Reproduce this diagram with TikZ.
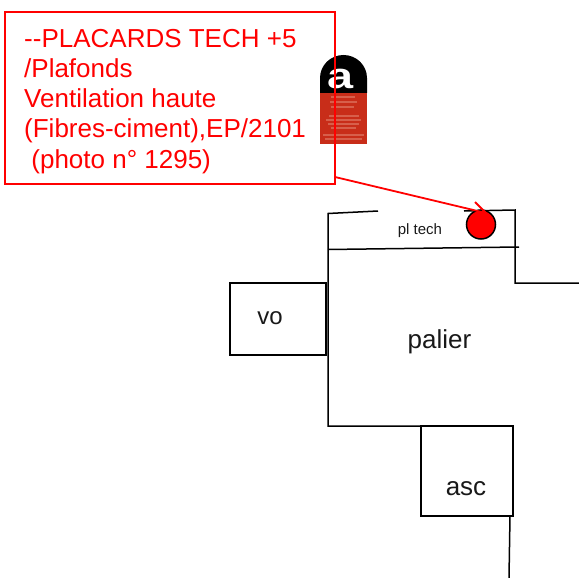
\documentclass[tikz,border=0pt]{standalone}
\usepackage{fontspec}
\setmainfont{Liberation Sans}
\definecolor{logored}{RGB}{200,45,25}
\definecolor{logopink}{RGB}{215,95,75}
\tikzset{
  wall/.style={black,line width=1.5pt},
  redline/.style={red,line width=1.8pt},
  lbl/.style={inner sep=0pt,text=black!90},
}
\begin{document}
\begin{tikzpicture}[x=1pt,y=-1pt]
\useasboundingbox (0,0) rectangle (579,578);
% logo
\fill[logored] (320,92) rectangle (367,144);
\fill[black] (320,93) -- (320,78) arc[start angle=180,end angle=360,x radius=23.5,y radius=23] -- (367,93) -- cycle;
\node[inner sep=0pt,text=white,font=\fontsize{36}{36}\selectfont\bfseries,xscale=1.3] (loga) at (341,79) {a};
\foreach \yy/\xa/\xb in {97/331/355,102/330/357,107/331/354,116/329/359,120/326/361,124/328/359,128/331/356,135/323/364,139/325/362}
  \draw[logopink,line width=1.6pt] (\xa,\yy) -- (\xb,\yy);
% walls
\coordinate (w1) at (378,211);
\coordinate (w2) at (328,213.5);
\coordinate (w3) at (328,426);
\coordinate (w4) at (421,426);
\coordinate (t1) at (464,211);
\coordinate (t2) at (515,210);
\coordinate (t3) at (515,283);
\coordinate (t4) at (579,283);
\coordinate (s1) at (328,249.5);
\coordinate (s2) at (519,247);
\coordinate (a1) at (510,516);
\coordinate (a2) at (509,578);
\draw[wall] (w1) -- (w2) -- (w3) -- (w4);
\draw[wall] (t1) -- (t2) -- (t3) -- (t4);
\draw[wall] (s1) -- (s2);
\draw[wall] (a1) -- (a2);
\node[draw=black,line width=1.5pt,minimum width=96pt,minimum height=72pt,inner sep=0pt,anchor=north west,outer sep=0pt] (vobox) at (230,283) {};
\node[lbl,font=\fontsize{24}{24}\selectfont] (vo) at (270,318) {vo};
\node[draw=black,line width=1.5pt,minimum width=92pt,minimum height=90pt,inner sep=0pt,anchor=north west,outer sep=0pt] (ascbox) at (421,426) {};
\node[lbl,font=\fontsize{26}{26}\selectfont] (asc) at (466,489) {asc};
\node[lbl,font=\fontsize{26}{26}\selectfont] (palier) at (439.5,342) {palier};
\node[lbl,font=\fontsize{15}{15}\selectfont] (pltech) at (420,231) {pl tech};
\node[circle,draw=black,fill=red,line width=1.5pt,minimum size=29pt,inner sep=0pt] (pt) at (481,224.5) {};
% label
\node[draw=red,line width=1.5pt,minimum width=330pt,minimum height=172pt,inner sep=0pt,anchor=north west,outer sep=0pt] (box) at (5,12) {};
\node[anchor=north west,inner sep=0pt,text=red,font=\fontsize{26}{30.2}\selectfont,align=left] (txt) at (24,29) {{-}{-}PLACARDS TECH +5\\/Plafonds\\Ventilation haute\\(Fibres-ciment),EP/2101\\\ (photo n° 1295)};
\coordinate (c0) at (335,177);
\coordinate (c1) at (486,213);
\coordinate (c2) at (475,202);
\draw[redline] (c0) -- (c1) -- (c2);
\end{tikzpicture}
\end{document}
